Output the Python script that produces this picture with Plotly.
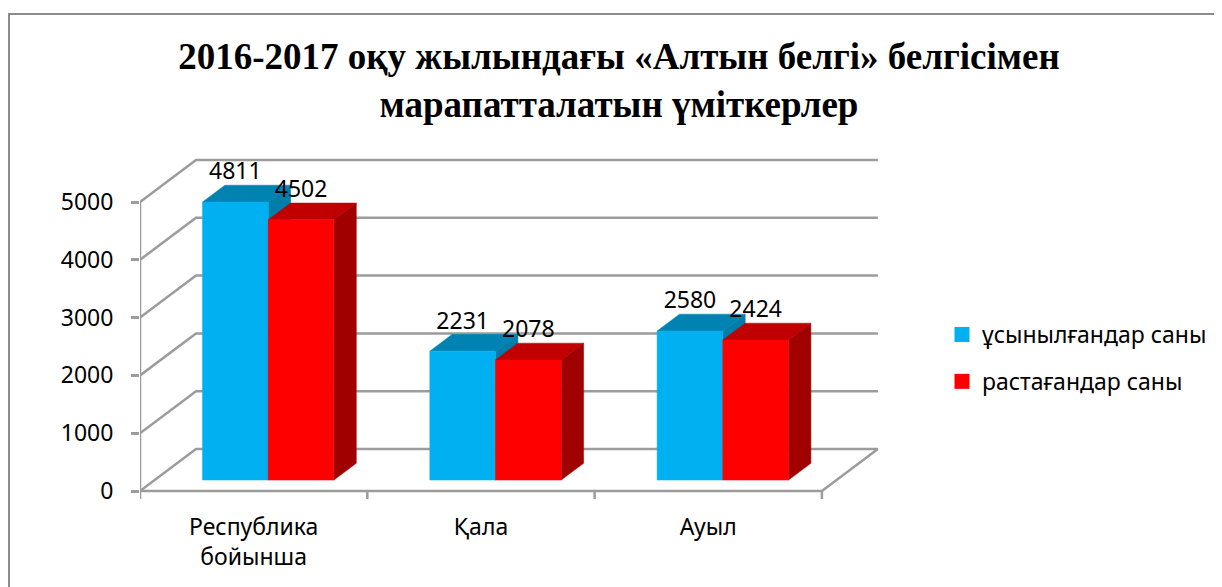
import plotly.graph_objects as go

# ---------------- data ----------------
categories = ["Республика<br>бойынша", "Қала", "Ауыл"]
series_names = ["ұсынылғандар саны", "растағандар саны"]
proposed = [4811, 2231, 2580]
confirmed = [4502, 2078, 2424]
y_ticks = [0, 1000, 2000, 3000, 4000, 5000]
title_text = "2016-2017 оқу жылындағы «Алтын белгі» белгісімен<br>марапатталатын үміткерлер"

# ---------------- styling / geometry (screen pixels) ----------------
SCR_W, SCR_H = 1222, 587
OFF = 8                                # page body margin of the html page
W, H = SCR_W - OFF, SCR_H - OFF
PLOT_L, PLOT_R, PLOT_T, PLOT_B = 140, 879, 140, 499
PX_PER_CAT = 227.3
PX_PER_VAL = 0.0578
DEPTH_PX_X, DEPTH_PX_Y = 56, 42
DX = DEPTH_PX_X / PX_PER_CAT          # depth shift in category units
DY = DEPTH_PX_Y / PX_PER_VAL          # depth shift in value units
BAR_W = 0.289
F0, FD = 0.26, 0.40                   # bar front depth fraction, bar depth fraction
N = len(categories)
X_RIGHT = N + DX

ML, MR, MT, MB = PLOT_L - OFF, SCR_W - PLOT_R, PLOT_T - OFF, SCR_H - PLOT_B
plot_w = PLOT_R - PLOT_L
plot_h = PLOT_B - PLOT_T
x_range = [0, plot_w / PX_PER_CAT]
y_low = -(8 / PX_PER_VAL)
y_range = [y_low, y_low + plot_h / PX_PER_VAL]

GRID = "#9c9c9c"
BLUE, BLUE_TOP, BLUE_SIDE = "#00B0F0", "#0083B2", "#007DA8"
RED, RED_TOP, RED_SIDE = "#FF0000", "#C00000", "#A00000"
FONT = "Noto Sans"

fig = go.Figure()

def line(xs, ys):
    fig.add_trace(go.Scatter(x=xs, y=ys, mode="lines", line=dict(color=GRID, width=2.5),
                             hoverinfo="skip", showlegend=False))

# walls: gridlines on back wall and side wall
for v in y_ticks:
    line([0, DX, X_RIGHT], [v, v + DY, v + DY])
# floor front + right diagonal
line([0, N, N + DX], [0, 0, DY])
# front vertical axis line
line([0, 0], [0, max(y_ticks)])
# category boundary ticks
tx, ty = [], []
for i in range(N + 1):
    tx += [i, i, None]
    ty += [0, y_low, None]
line(tx, ty)

def poly(xs, ys, color):
    fig.add_trace(go.Scatter(x=xs + [xs[0]], y=ys + [ys[0]], mode="lines", fill="toself",
                             fillcolor=color, line=dict(color=color, width=0.5),
                             hoverinfo="skip", showlegend=False))

ox, oy = F0 * DX, F0 * DY
ox2, oy2 = (F0 + FD) * DX, (F0 + FD) * DY
lbl_x, lbl_y, lbl_t = [], [], []
for i in range(N):
    c = i + 0.5
    for j, (vals, cf, ct, cs) in enumerate([(proposed, BLUE, BLUE_TOP, BLUE_SIDE),
                                             (confirmed, RED, RED_TOP, RED_SIDE)]):
        v = vals[i]
        L = c - BAR_W + j * BAR_W
        R = L + BAR_W
        # top
        poly([L + ox, R + ox, R + ox2, L + ox2], [v + oy, v + oy, v + oy2, v + oy2], ct)
        # side
        poly([R + ox, R + ox2, R + ox2, R + ox], [oy, oy2, v + oy2, v + oy], cs)
        # front
        poly([L + ox, R + ox, R + ox, L + ox], [oy, oy, v + oy, v + oy], cf)
        lbl_x.append((L + R) / 2 + ox)
        lbl_y.append(v + oy2)
        lbl_t.append(str(v))

fig.add_trace(go.Scatter(x=lbl_x, y=lbl_y, text=lbl_t, mode="text", textposition="top center",
                         textfont=dict(family=FONT, size=23, color="black"),
                         cliponaxis=False, hoverinfo="skip", showlegend=False))

# legend entries
for name, col in zip(series_names, [BLUE, RED]):
    fig.add_trace(go.Scatter(x=[None], y=[None], mode="markers", name=name,
                             marker=dict(symbol="square", size=15, color=col),
                             legendgroup=name))

fig.update_layout(
    width=W, height=H,
    margin=dict(l=ML, r=MR, t=MT, b=MB, autoexpand=False),
    paper_bgcolor="white", plot_bgcolor="rgba(0,0,0,0)",
    title=dict(text=title_text, x=(619 - OFF) / W, xanchor="center", xref="container",
               y=1 - 61 / H, yanchor="middle", yref="container",
               font=dict(family="Liberation Serif", size=37, color="black", weight="bold")),
    xaxis=dict(range=x_range, showgrid=False, zeroline=False, showline=False,
               tickmode="array", tickvals=[i + 0.5 for i in range(N)], ticktext=categories,
               ticks="", tickfont=dict(family=FONT, size=23, color="black"),
               ticklabelstandoff=12, fixedrange=True),
    yaxis=dict(range=y_range, showgrid=False, zeroline=False, showline=False,
               tickmode="array", tickvals=y_ticks, ticks="outside", ticklen=8,
               tickwidth=2.5, tickcolor=GRID, ticklabelstandoff=13,
               tickfont=dict(family=FONT, size=23, color="black"), fixedrange=True),
    legend=dict(x=(942 - PLOT_L) / plot_w, y=1 - (313 - PLOT_T) / plot_h,
                xanchor="left", yanchor="top",
                font=dict(family=FONT, size=23, color="black"), tracegroupgap=14,
                bgcolor="rgba(0,0,0,0)"),
    shapes=[dict(type="rect", xref="paper", yref="paper",
                 x0=(9 - PLOT_L) / plot_w, x1=(SCR_W + 5 - PLOT_L) / plot_w,
                 y0=-(SCR_H + 5 - PLOT_B) / plot_h, y1=1 + (PLOT_T - 14) / plot_h,
                 line=dict(color="#8c8c8c", width=2), layer="below")],
)

fig.write_html("out.html")
